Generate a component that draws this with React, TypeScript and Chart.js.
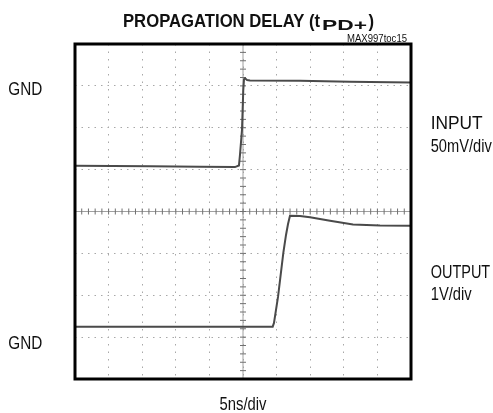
import React, { useEffect, useRef } from "react";
import { Chart, registerables } from "chart.js";

Chart.register(...registerables);

// Time axis in ns (5 ns/div, centre = 0), vertical axis in divisions (centre = 0)
const xTickValues = [-25, 25];
const yTickValues = [-4, 4];
const xStepNs = 5;
const yStepDiv = 1;

const inputTimeNs = [-25, -13.8, -6.4, -1.2, -0.6, -0.45, -0.15, 0.04, 0.15, 0.3, 0.6, 1.04, 8.5, 15.9, 25];
const inputDiv = [1.09, 1.08, 1.07, 1.06, 1.1, 1.35, 1.95, 2.9, 3.16, 3.18, 3.14, 3.13, 3.12, 3.1, 3.08];

const outputTimeNs = [-25, -6.4, 4.42, 4.61, 5.21, 6.0, 6.4, 6.7, 6.99, 8.48, 9.97, 12.95, 16.37, 20.39, 25];
const outputDiv = [-2.75, -2.75, -2.75, -2.66, -2.04, -0.99, -0.56, -0.3, -0.1, -0.11, -0.14, -0.22, -0.31, -0.335, -0.34];

const titleMain = "PROPAGATION DELAY (t";
const titleSub = "PD+";
const titleEnd = ")";
const figureId = "MAX997toc15";
const gndLabel = "GND";
const inputLabel = "INPUT";
const inputScale = "50mV/div";
const outputLabel = "OUTPUT";
const outputScale = "1V/div";
const timeScale = "5ns/div";

const FONT = '"Liberation Sans", Arial, sans-serif';

function fitText(
  ctx: CanvasRenderingContext2D,
  text: string,
  left: number,
  baseline: number,
  cap: number,
  width: number,
  bold = false
): number {
  const size = cap / 0.716;
  ctx.font = `${bold ? "bold " : ""}${size}px ${FONT}`;
  const w = ctx.measureText(text).width;
  const sx = width / w;
  ctx.save();
  ctx.translate(left, baseline);
  ctx.scale(sx, 1);
  ctx.fillText(text, 0, 0);
  ctx.restore();
  return sx;
}

const scopePlugin = {
  id: "scope",
  beforeDatasetsDraw(chart: any) {
    const ctx: CanvasRenderingContext2D = chart.ctx;
    const xs = chart.scales.x;
    const ys = chart.scales.y;
    const cx = xs.getPixelForValue(0);
    const cy = ys.getPixelForValue(0);
    const { left, right, top, bottom } = chart.chartArea;
    ctx.save();
    // centre axes
    ctx.strokeStyle = "#a0a0a0";
    ctx.lineWidth = 1;
    ctx.beginPath();
    ctx.moveTo(cx, top);
    ctx.lineTo(cx, bottom);
    ctx.moveTo(left, cy);
    ctx.lineTo(right, cy);
    ctx.stroke();
    // minor ticks
    ctx.strokeStyle = "#707070";
    ctx.lineWidth = 1;
    ctx.beginPath();
    for (let v = xTickValues[0]; v <= xTickValues[1] + 1e-6; v += xStepNs / 5) {
      const px = xs.getPixelForValue(v);
      ctx.moveTo(px, cy - 3);
      ctx.lineTo(px, cy + 3);
    }
    for (let v = yTickValues[0]; v <= yTickValues[1] + 1e-6; v += yStepDiv / 5) {
      const py = ys.getPixelForValue(v);
      ctx.moveTo(cx - 3, py);
      ctx.lineTo(cx + 3, py);
    }
    ctx.stroke();
    ctx.restore();
  },
  afterDraw(chart: any) {
    const ctx: CanvasRenderingContext2D = chart.ctx;
    const { left, right, top, bottom } = chart.chartArea;
    ctx.save();
    ctx.strokeStyle = "#000";
    ctx.lineWidth = 3;
    ctx.strokeRect(left, top, right - left, bottom - top);

    ctx.fillStyle = "#111";
    ctx.textBaseline = "alphabetic";
    ctx.textAlign = "left";
    const sx = fitText(ctx, titleMain, 123, 27, 13.3, 197, true);
    fitText(ctx, titleSub, 322, 30, 11, 45, true);
    ctx.font = `bold ${13.3 / 0.716}px ${FONT}`;
    ctx.save();
    ctx.translate(368.5, 27);
    ctx.scale(sx, 1);
    ctx.fillText(titleEnd, 0, 0);
    ctx.restore();

    fitText(ctx, figureId, 347, 41.5, 7.5, 60);

    fitText(ctx, gndLabel, 8.3, 95, 12.5, 34);
    fitText(ctx, gndLabel, 8.3, 348.5, 12.5, 34);
    fitText(ctx, inputLabel, 430.7, 128.5, 13, 52);
    fitText(ctx, inputScale, 430.7, 151.5, 13, 61);
    fitText(ctx, outputLabel, 430.7, 278, 13, 59.5);
    fitText(ctx, outputScale, 430.7, 300, 13, 41);
    fitText(ctx, timeScale, 219.5, 410, 13, 47);
    ctx.restore();
  },
};

export default function App() {
  const ref = useRef<HTMLCanvasElement | null>(null);
  useEffect(() => {
    if (!ref.current) return;
    const chart = new Chart(ref.current, {
      type: "line",
      data: {
        datasets: [
          {
            label: "INPUT",
            data: inputTimeNs.map((t, i) => ({ x: t, y: inputDiv[i] })),
            borderColor: "#4a4a4a",
            borderWidth: 2,
            pointRadius: 0,
            tension: 0,
          },
          {
            label: "OUTPUT",
            data: outputTimeNs.map((t, i) => ({ x: t, y: outputDiv[i] })),
            borderColor: "#4a4a4a",
            borderWidth: 2,
            pointRadius: 0,
            tension: 0,
          },
        ],
      },
      options: {
        animation: false,
        responsive: true,
        maintainAspectRatio: false,
        layout: { padding: { left: 75, right: 82, top: 44, bottom: 34 } },
        plugins: { legend: { display: false }, tooltip: { enabled: false }, title: { display: false } },
        scales: {
          x: {
            type: "linear",
            min: xTickValues[0],
            max: xTickValues[1],
            ticks: { stepSize: xStepNs, display: false },
            grid: { color: "#a8a8a8", lineWidth: 1, drawTicks: false },
            border: { display: false, dash: [1.5, 6] },
          },
          y: {
            type: "linear",
            min: yTickValues[0],
            max: yTickValues[1],
            ticks: { stepSize: yStepDiv, display: false },
            grid: { color: "#a8a8a8", lineWidth: 1, drawTicks: false },
            border: { display: false, dash: [1.5, 5] },
          },
        },
      },
      plugins: [scopePlugin],
    } as any);
    return () => chart.destroy();
  }, []);
  return (
    <div style={{ position: "absolute", left: 0, top: 0, width: 493, height: 413, background: "#fff" }}>
      <canvas ref={ref} />
    </div>
  );
}
